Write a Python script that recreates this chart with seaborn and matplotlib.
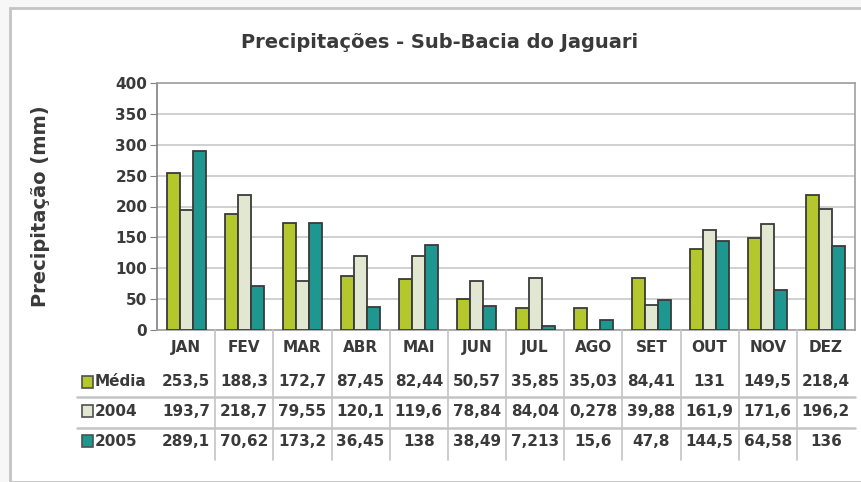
import matplotlib
matplotlib.use('agg')
import matplotlib.pyplot as plt
import matplotlib.transforms as mtransforms
from matplotlib.patches import Rectangle
import pandas as pd
import seaborn as sns

meses = ["JAN", "FEV", "MAR", "ABR", "MAI", "JUN", "JUL", "AGO", "SET", "OUT", "NOV", "DEZ"]
series = ["Média", "2004", "2005"]
media = [253.5, 188.3, 172.7, 87.45, 82.44, 50.57, 35.85, 35.03, 84.41, 131, 149.5, 218.4]
ano_2004 = [193.7, 218.7, 79.55, 120.1, 119.6, 78.84, 84.04, 0.278, 39.88, 161.9, 171.6, 196.2]
ano_2005 = [289.1, 70.62, 173.2, 36.45, 138, 38.49, 7.213, 15.6, 47.8, 144.5, 64.58, 136]
# labels as printed in the data table
rotulos_media = ["253,5", "188,3", "172,7", "87,45", "82,44", "50,57", "35,85", "35,03", "84,41", "131", "149,5", "218,4"]
rotulos_2004 = ["193,7", "218,7", "79,55", "120,1", "119,6", "78,84", "84,04", "0,278", "39,88", "161,9", "171,6", "196,2"]
rotulos_2005 = ["289,1", "70,62", "173,2", "36,45", "138", "38,49", "7,213", "15,6", "47,8", "144,5", "64,58", "136"]
yticks = [0, 50, 100, 150, 200, 250, 300, 350, 400]

cores = ["#b4c72c", "#e1e7d1", "#1f9791"]
txt = "#3a3a3a"

sns.set_style("white")
plt.rcParams['font.family'] = ['DejaVu Sans']

W, H = 861, 482
fig = plt.figure(figsize=(W / 100, H / 100), dpi=100)
fig.patch.set_facecolor("#f7f7f7")

# outer chart frame
fig.patches.append(Rectangle((10 / W, 0), 1.0, 1 - 8 / H, transform=fig.transFigure,
                             facecolor="white", edgecolor="#c4c4c4", lw=2, zorder=-5))

left, right, top, bottom = 157, 855, 83, 330
ax = fig.add_axes([left / W, 1 - bottom / H, (right - left) / W, (bottom - top) / H])
ax.set_zorder(2)
ax.patch.set_alpha(0)

df = pd.DataFrame({
    "mes": meses * 3,
    "valor": media + ano_2004 + ano_2005,
    "serie": [s for s in series for _ in meses],
})
sns.barplot(data=df, x="mes", y="valor", hue="serie", palette=cores, width=0.67, saturation=1,
            edgecolor="#3a3a3a", linewidth=1.3, legend=False, ax=ax, zorder=3)

ax.set_ylim(0, 400)
ax.set_xlim(-0.5, 11.5)
ax.set_yticks(yticks)
ax.set_yticklabels([str(v) for v in yticks], fontsize=11, fontweight="bold", color=txt)
ax.yaxis.grid(True, color="#c8c8c8", lw=1.2, zorder=0)
ax.set_axisbelow(True)
for s in ax.spines.values():
    s.set_color("#a0a0a0")
    s.set_linewidth(1.2)
ax.spines["left"].set_color("#808080")
ax.tick_params(axis="y", left=True, length=5, color="#808080", pad=2)
ax.tick_params(axis="x", length=0, pad=7)
ax.set_xticks(range(len(meses)))
ax.set_xticklabels(meses, fontsize=11, fontweight="bold", color=txt)
ax.set_xlabel("")
ax.set_ylabel("Precipitação (mm)", fontsize=14, fontweight="bold", color=txt)
ax.yaxis.set_label_coords(-(left - 50) / (right - left), 0.5)

fig.text(440 / W, 1 - 42 / H, "Precipitações - Sub-Bacia do Jaguari", ha="center", va="center",
         fontsize=14, fontweight="bold", color=txt)

# data table under the chart
trans = mtransforms.blended_transform_factory(ax.transData, fig.transFigure)
linhas = [rotulos_media, rotulos_2004, rotulos_2005]
ys = [382, 411, 441]
for rot, y, cor, nome in zip(linhas, ys, cores, series):
    for i, r in enumerate(rot):
        fig.text(i, 1 - y / H, r, transform=trans, ha="center", va="center",
                 fontsize=11, fontweight="bold", color=txt)
    fig.patches.append(Rectangle((82 / W, 1 - (y + 6) / H), 11 / W, 12 / H, transform=fig.transFigure,
                                 facecolor=cor, edgecolor="#505050", lw=1.2))
    fig.text(95 / W, 1 - y / H, nome, ha="left", va="center",
             fontsize=11, fontweight="bold", color=txt)

for k in range(len(meses) - 1):
    fig.lines.append(plt.Line2D([k + 0.5, k + 0.5], [1 - bottom / H, 1 - 460 / H], transform=trans,
                                color="#c4c4c4", lw=1.2))
for y in [397, 428]:
    fig.lines.append(plt.Line2D([77 / W, right / W], [1 - y / H, 1 - y / H], transform=fig.transFigure,
                                color="#c4c4c4", lw=1.8))

fig.savefig("out.png", dpi=100)
